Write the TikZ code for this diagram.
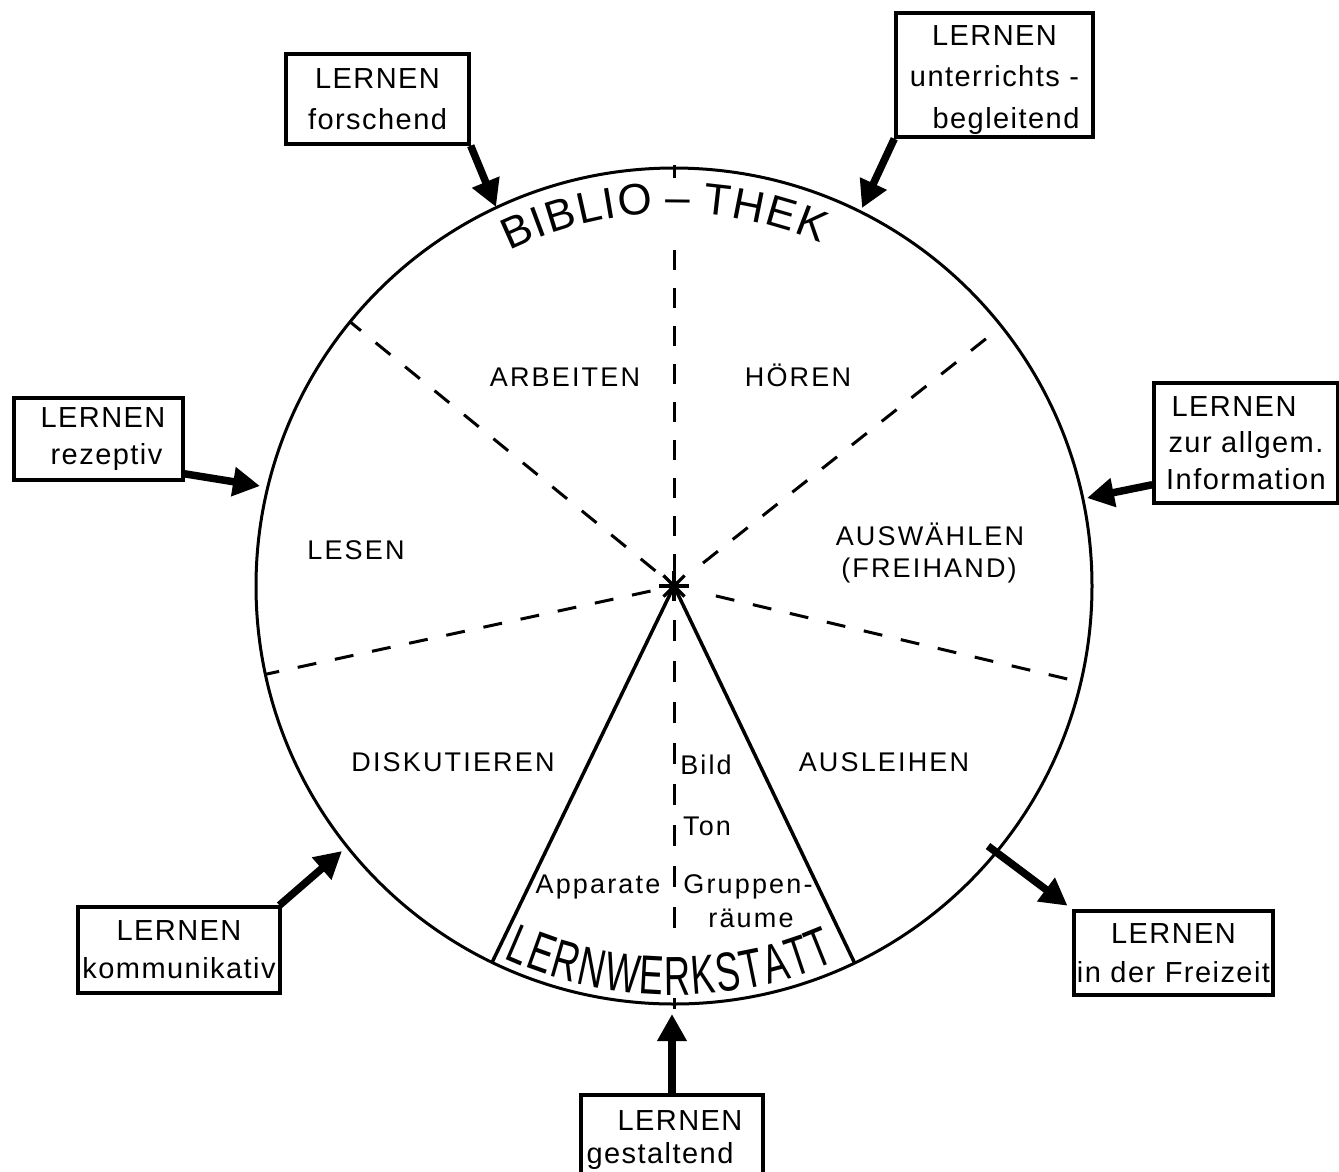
\documentclass[tikz,border=0pt]{standalone}
\usepackage{fontspec}
\setmainfont{Liberation Sans}
\newfontfamily\boxfam[LetterSpace=5]{Liberation Sans}
\newfontfamily\labfam[LetterSpace=8]{Liberation Sans}
\newfontfamily\arcfam{Liberation Sans}
\newfontfamily\lwfam[FakeStretch=0.66]{Liberation Sans}
\usetikzlibrary{arrows.meta,decorations.text,calc}
\newcommand{\bibsz}{\arcfam\fontsize{44}{50}\selectfont}
\newcommand{\lwsz}{\lwfam\fontsize{55}{60}\selectfont}
\newcommand{\lk}{{\kern1.8pt}}
\newcommand{\bk}{{\kern1.6pt}}
\begin{document}
\begin{tikzpicture}[x=1pt,y=1pt,
  lbox/.style={draw, line width=3.4pt, inner sep=0pt, align=center,
    font=\boxfam\fontsize{29}{38}\selectfont},
  lab/.style={anchor=base, inner sep=0pt, font=\labfam\fontsize{27}{30}\selectfont},
  dsh/.style={line width=3pt, dash pattern=on 19pt off 19pt},
  arr/.style={line width=7.5pt, -{Triangle[length=27pt,width=28pt]}},
  rim/.style={line width=3pt},
  wedge/.style={line width=3.5pt}]
\useasboundingbox (0,0) rectangle (1339,-1171);
\fill[white] (0,0) rectangle (1339,-1171);
\clip (0,0) rectangle (1339,-1171);

\coordinate (c) at (674,-586);
% circle
\draw[rim] (c) circle[radius=418];
% ticks at top and bottom of the circle
\draw[rim] (674,-165) -- (674,-178);
\draw[rim] (674,-998) -- (674,-1009);

% dashed radii
\draw[dsh] ($(c)+(140.8:24)$) -- ($(c)+(140.8:418)$);
\draw[dsh] ($(c)+(38.4:37)$) -- ($(c)+(38.4:418)$);
\draw[dsh] ($(c)+(192.2:24)$) -- ($(c)+(192.2:418)$);
\draw[dsh] ($(c)+(-13.3:43)$) -- ($(c)+(-13.3:418)$);
\draw[line width=3pt, dash pattern=on 20pt off 18pt] (674,-250) -- (c);
\draw[line width=3pt, dash pattern=on 21pt off 20pt] (674,-620) -- (674,-930);

% wedge of the Lernwerkstatt
\draw[wedge] (c) -- ($(c)+(244.2:418)$);
\draw[wedge] (c) -- ($(c)+(295.6:418)$);

% star in the centre
\fill (c) circle[radius=5.5];
\foreach \a in {0,45,...,315} \draw[line width=3.2pt] (c) -- ++(\a:15);

% curved titles
\path[decorate, decoration={text along path, text align=center,
   text={|\bibsz|B\bk I\bk B\bk L\bk I\bk O{ – }T\bk H\bk E\bk K}}]
   ($(c)+(121.5:373)$) arc[start angle=121.5, end angle=61.5, radius=373];
\path[decorate, decoration={text along path, text align=center,
   text={|\lwsz|L\lk E\lk R\lk N\lk W\lk E\lk R\lk K\lk S\lk T\lk A\lk T\lk T}}]
   ($(c)+(234.4:409)$) arc[start angle=234.4, end angle=304.4, radius=409];

% sector labels
\node[lab] (arbeiten) at (565,-386) {ARBEITEN};
\node[lab] (hoeren) at (798,-386) {HÖREN};
\node[lab] (lesen) at (356,-559) {LESEN};
\node[lab] (auswaehlen) at (930,-545) {AUSWÄHLEN};
\node[lab] (freihand) at (929,-577) {(FREIHAND)};
\node[lab] (diskutieren) at (453,-771) {DISKUTIEREN};
\node[lab] (ausleihen) at (884,-771) {AUSLEIHEN};
\node[lab] (bild) at (706,-774) {Bild};
\node[lab] (ton) at (707,-835) {Ton};
\node[lab] (apparate) at (598,-893) {Apparate};
\node[lab] (gruppen) at (748,-893) {Gruppen-};
\node[lab] (raeume) at (751,-927) {räume};

% boxes
\node[lbox, minimum width=183pt, minimum height=90pt] (b1) at (377.5,-99)
  {LERNEN\\[3pt]forschend};
\node[lbox, minimum width=197pt, minimum height=124pt] (b2) at (994.5,-75)
  {\rule{0pt}{30pt}LERNEN\\[3.5pt]unterrichts -\\[3.5pt]\hspace*{23pt}begleitend};
\node[lbox, minimum width=169pt, minimum height=82pt] (b3) at (98.5,-439)
  {\hspace*{9pt}LERNEN\\[-1pt]\hspace*{16pt}rezeptiv};
\node[lbox, minimum width=184pt, minimum height=120pt] (b4) at (1246,-443)
  {LERNEN\hspace*{24pt}\\[-1.5pt]zur allgem.\\[-1.5pt]Information};
\node[lbox, minimum width=202pt, minimum height=86pt] (b5) at (179,-950)
  {LERNEN\\kommunikativ};
\node[lbox, minimum width=199pt, minimum height=84pt] (b6) at (1173.5,-953)
  {LERNEN\\[1pt]in der Freizeit};
\node[lbox, minimum width=182pt, minimum height=90pt] (b7) at (672,-1140)
  {\hspace*{16pt}LERNEN\\[-5pt]gestaltend\hspace*{24pt}};

% arrows
\coordinate (t1) at (496,-207);
\coordinate (t2) at (862,-208);
\coordinate (t3) at (260,-486);
\coordinate (t4) at (1087,-498);
\coordinate (t5) at (342,-851);
\coordinate (s6) at (988,-846);
\coordinate (t7) at (672,-1014);
\draw[arr] (b1.south east) -- (t1);
\draw[arr] (b2.south west) -- (t2);
\draw[arr] (b3.-22) -- (t3);
\draw[arr] (b4.204.5) -- (t4);
\draw[arr] (b5.24.8) -- (t5);
\draw[arr, shorten >=6pt] (s6) -- (b6.north west);
\draw[arr] (b7.north) -- (t7);
\end{tikzpicture}
\end{document}
